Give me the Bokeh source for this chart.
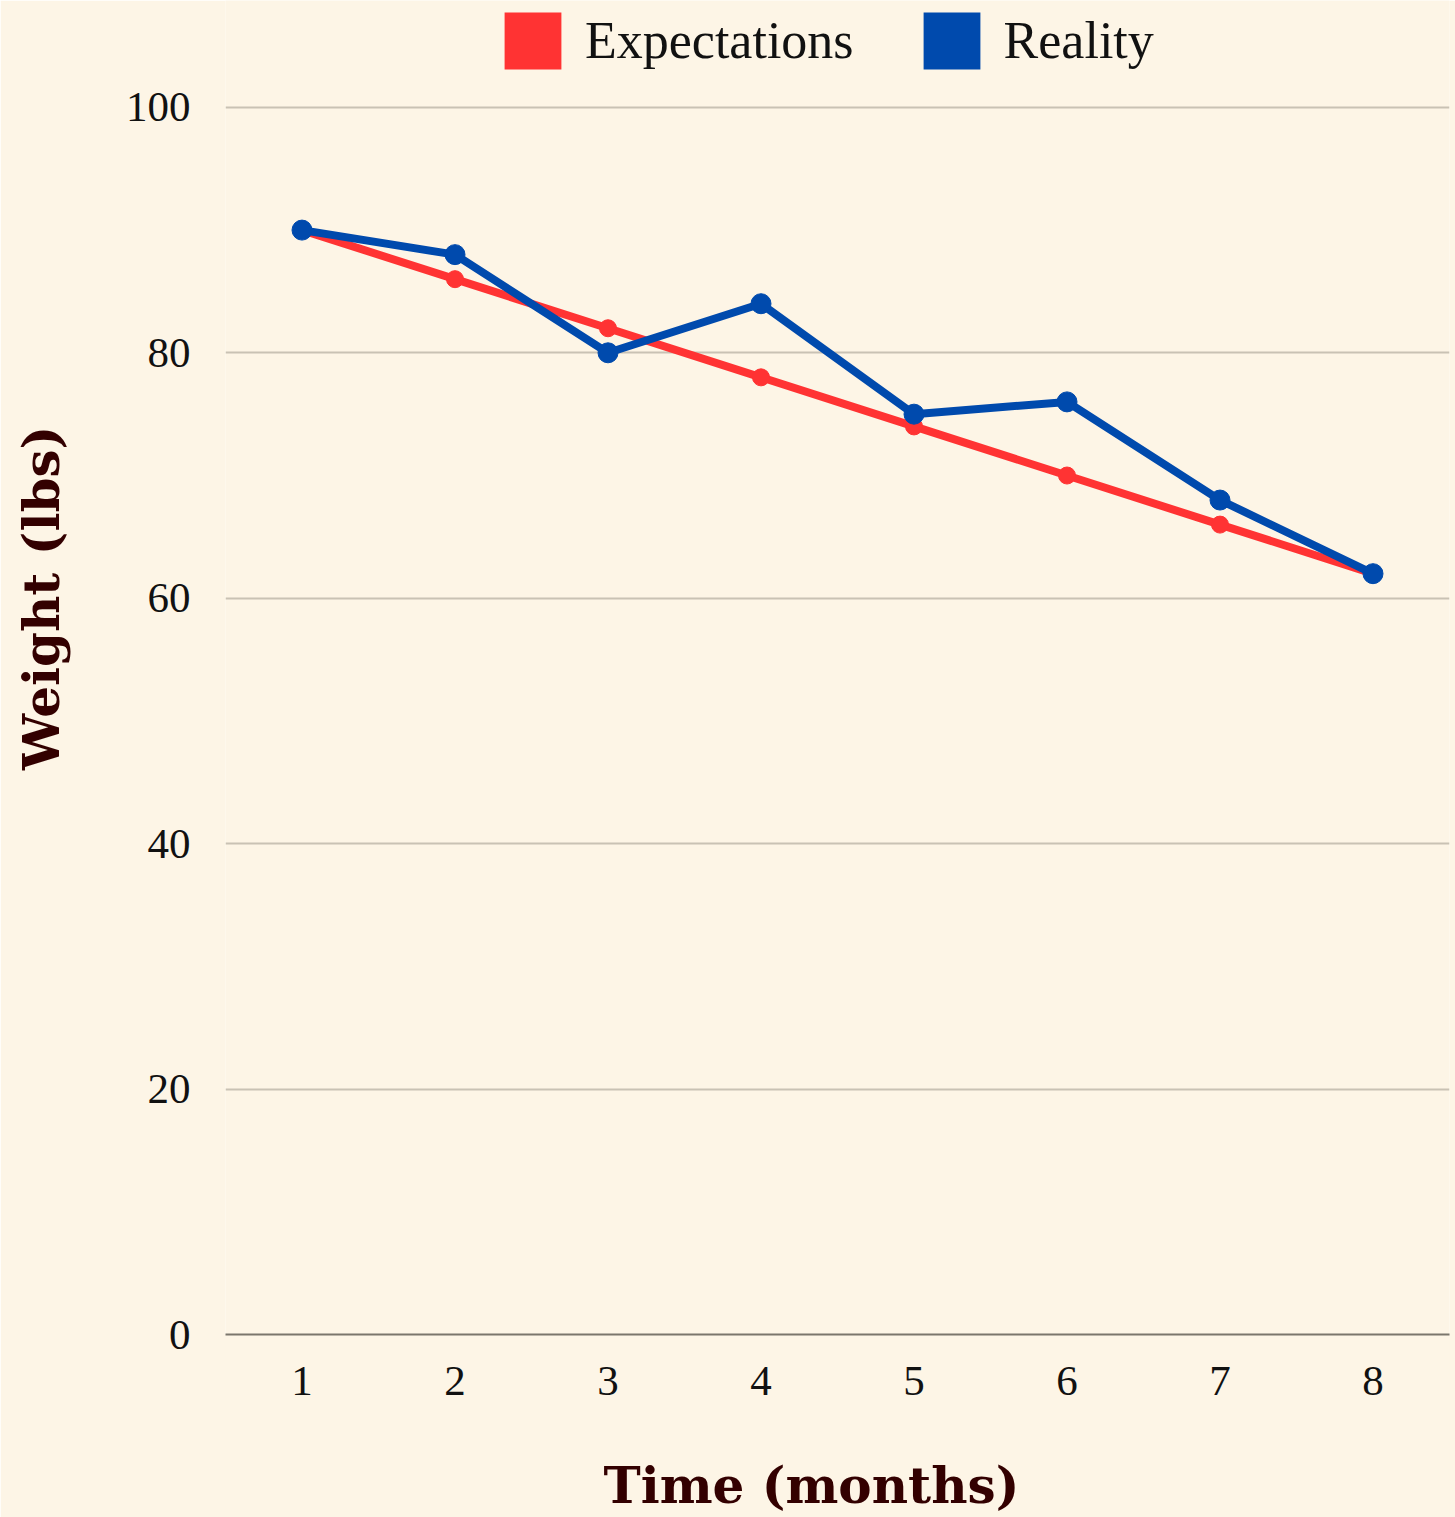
from bokeh.plotting import figure
from bokeh.models import (ColumnDataSource, FactorRange, Range1d, FixedTicker,
                          Legend, LegendItem)
from bokeh.embed import file_html
from bokeh.resources import INLINE

months = ["1", "2", "3", "4", "5", "6", "7", "8"]
expectations = [90, 86, 82, 78, 74, 70, 66, 62]
reality = [90, 88, 80, 84, 75, 76, 68, 62]
y_ticks = [0, 20, 40, 60, 80, 100]
series_names = ["Expectations", "Reality"]
series_colors = ["#ff3333", "#004aad"]

BG = "#fdf5e6"
TICK_FONT = "Liberation Serif"
TITLE_FONT = "DejaVu Serif"
NB = "\u00a0"
NAN = float("nan")

# frame spans the full height; values above 100 are headroom for the legend
p = figure(width=1455, height=1517, output_backend="svg", toolbar_location=None,
           x_range=FactorRange(*months), y_range=Range1d(0, 108.71),
           min_border_left=225, min_border_right=6, min_border_top=0,
           min_border_bottom=182)
p.background_fill_color = BG
p.border_fill_color = BG
p.outline_line_color = None

src = ColumnDataSource(dict(month=months, exp=expectations, real=reality))

p.line("month", "exp", source=src, line_color=series_colors[0], line_width=8)
p.scatter("month", "exp", source=src, size=17, fill_color=series_colors[0],
          line_color=series_colors[0])
p.line("month", "real", source=src, line_color=series_colors[1], line_width=8)
p.scatter("month", "real", source=src, size=20, fill_color=series_colors[1],
          line_color=series_colors[1])

# legend proxies (area glyphs give filled squares); NaN = nothing drawn in plot
proxies = []
for c in series_colors:
    proxies.append(p.quad(left=[NAN], right=[NAN], top=[NAN], bottom=[NAN],
                          fill_color=c, line_color=None))
legend = Legend(items=[LegendItem(label=n, renderers=[r], index=0)
                       for n, r in zip(series_names, proxies)],
                orientation="horizontal", location=(272, 1258),
                glyph_width=71, glyph_height=71, label_standoff=17, spacing=62,
                padding=0, margin=0, border_line_color=None,
                background_fill_alpha=0,
                label_text_font=TICK_FONT, label_text_font_size="52px",
                label_text_color="#111111")
p.add_layout(legend, "center")

# grid
p.xgrid.grid_line_color = None
p.ygrid.ticker = FixedTicker(ticks=y_ticks)
p.ygrid.grid_line_color = "#c9c2b4"
p.ygrid.grid_line_width = 2

# y axis
p.yaxis.ticker = FixedTicker(ticks=y_ticks)
p.yaxis.axis_line_color = None
p.yaxis.major_tick_line_color = None
p.yaxis.minor_tick_line_color = None
p.yaxis.major_label_standoff = 29
p.yaxis.major_label_text_font = TICK_FONT
p.yaxis.major_label_text_font_size = "43px"
p.yaxis.major_label_text_color = "#111111"
p.yaxis.axis_label = NB * 8 + "Weight (lbs)"
p.yaxis.axis_label_standoff = 52
p.yaxis.axis_label_text_font = TITLE_FONT
p.yaxis.axis_label_text_font_style = "bold"
p.yaxis.axis_label_text_font_size = "50px"
p.yaxis.axis_label_text_color = "#330000"

# x axis
p.xaxis.axis_line_color = "#7b766c"
p.xaxis.axis_line_width = 2
p.xaxis.major_tick_line_color = None
p.xaxis.minor_tick_line_color = None
p.xaxis.major_label_standoff = 26
p.xaxis.major_label_text_font = TICK_FONT
p.xaxis.major_label_text_font_size = "43px"
p.xaxis.major_label_text_color = "#111111"
p.xaxis.axis_label = "Time (months)" + NB * 3
p.xaxis.axis_label_standoff = 58
p.xaxis.axis_label_text_font = TITLE_FONT
p.xaxis.axis_label_text_font_style = "bold"
p.xaxis.axis_label_text_font_size = "50px"
p.xaxis.axis_label_text_color = "#330000"

open("out.html", "w").write(file_html(p, INLINE))
